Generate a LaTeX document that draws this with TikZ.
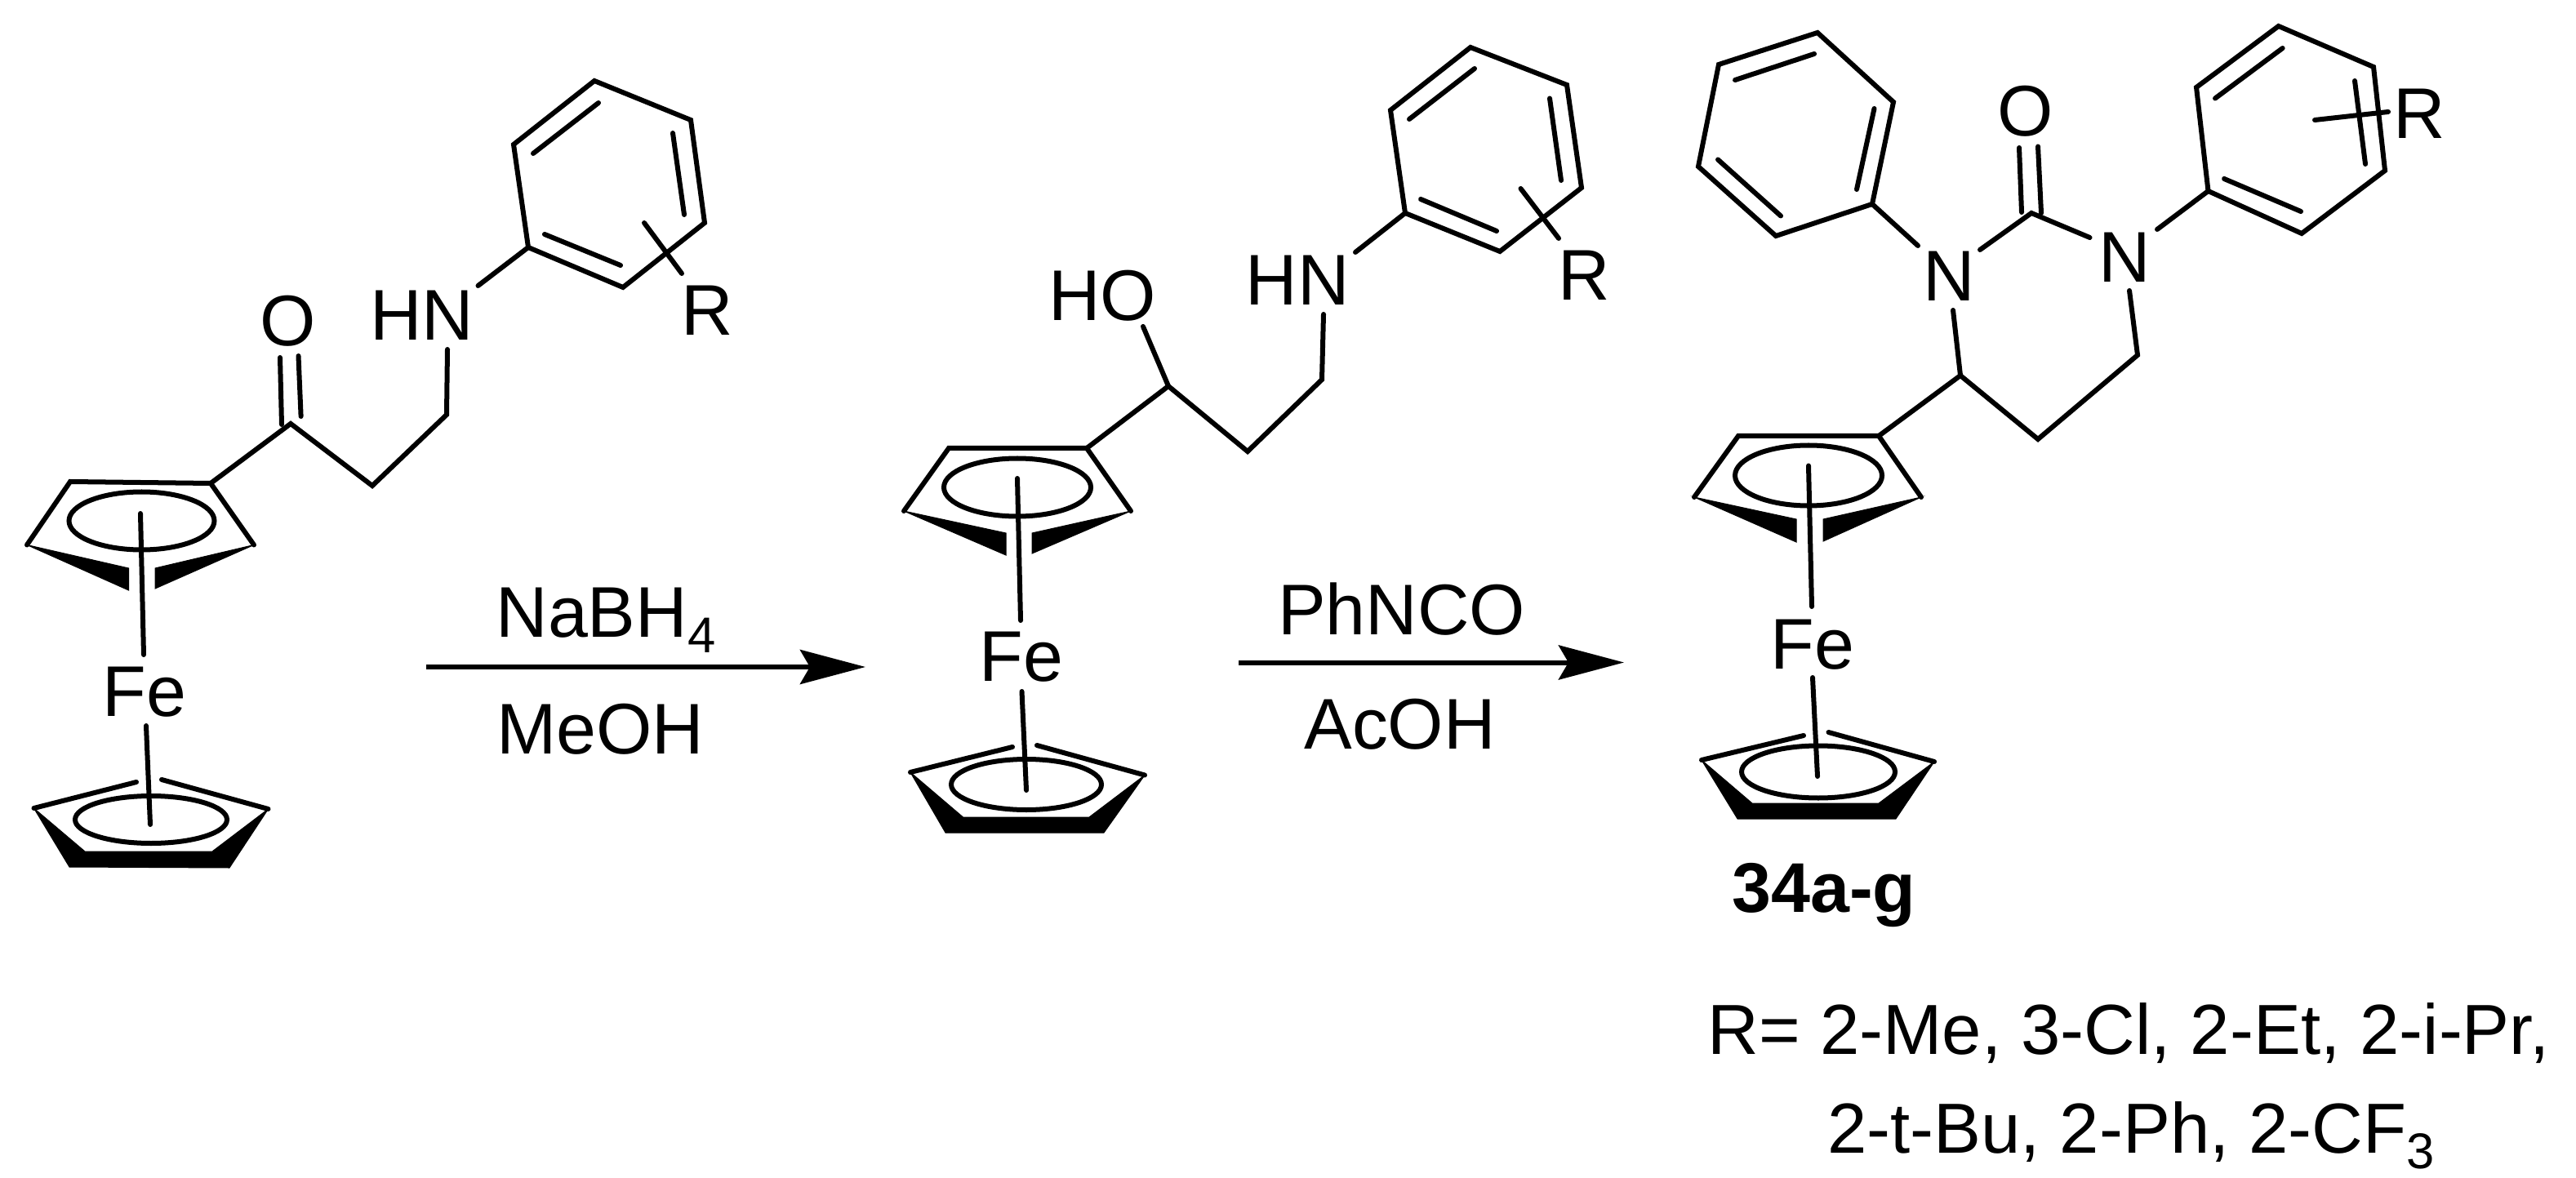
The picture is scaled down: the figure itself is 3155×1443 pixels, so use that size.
\documentclass[tikz,border=0pt]{standalone}
\usepackage{fontspec}
\setmainfont{Liberation Sans}
\usetikzlibrary{arrows.meta}
\newcommand{\subdig}[1]{\raisebox{-0.22em}{\fontsize{17.5}{21}\selectfont #1}}
\tikzset{
  bond/.style={line width=0.06cm,line cap=round,line join=miter,miter limit=10},
  solid wedge/.style={fill=black,draw=black,line width=0.01cm,line join=miter},
  atom/.style={inner sep=0pt,outer sep=0pt,font=\fontsize{25}{30}\selectfont},
  reagent/.style={atom,anchor=base},
  caption line/.style={reagent,font=\fontsize{24.7}{30}\selectfont},
  rxnarrow/.style={line width=0.06cm,-{Stealth[length=0.8cm,width=0.42cm,inset=0.12cm]}},
}
\begin{document}
\begin{tikzpicture}[x=0.01cm,y=-0.01cm]
\useasboundingbox (0,0) rectangle (3155,1443);
\fill[white] (0,0) rectangle (3155,1443);

% ---------- molecule A ----------
\coordinate (a1) at (86,590); \coordinate (a2) at (258,592); \coordinate (a3) at (311,667.5); \coordinate (a4) at (33,667.5);
\coordinate (a5) at (157.5,696); \coordinate (a6) at (157.5,723); \coordinate (a7) at (190,696); \coordinate (a8) at (190,721);
\coordinate (aec) at (173.5,638);
\coordinate (as1) at (172,629); \coordinate (as2) at (176,802); \coordinate (as3) at (179,889); \coordinate (as4) at (184,1010);
\coordinate (ab1) at (41.5,990); \coordinate (ab2) at (167,958); \coordinate (ab3) at (198,955); \coordinate (ab4) at (328.5,991);
\coordinate (ab5) at (104,1043); \coordinate (ab6) at (260,1043); \coordinate (ab7) at (281,1063); \coordinate (ab8) at (85,1062);
\coordinate (abc) at (185,1004);
\coordinate (ac1) at (356,519); \coordinate (ac2) at (456,595); \coordinate (ac3) at (547,508); \coordinate (aNe) at (548,428);
\coordinate (ao1) at (343,438); \coordinate (ao2) at (345,520); \coordinate (ao3) at (365.5,436); \coordinate (ao4) at (368.6,510);
\coordinate (aNb) at (585.5,350);
\coordinate (ar1) at (647,303); \coordinate (ar2) at (629,177); \coordinate (ar3) at (728,99); \coordinate (ar4) at (846,147); \coordinate (ar5) at (863,273); \coordinate (ar6) at (763,352);
\coordinate (ai1) at (667,287); \coordinate (ai2) at (760,325); \coordinate (ai3) at (653,188); \coordinate (ai4) at (733,126); \coordinate (ai5) at (824,163); \coordinate (ai6) at (838,263);
\coordinate (ax1) at (789,273); \coordinate (ax2) at (835,335);
\node[atom] (aFe) at (177,848) {Fe};
\node[atom] (aO) at (353,393) {O};
\node[atom] (aHN) at (517,386) {HN};
\node[atom] (aR) at (866,380) {R};
\draw[bond] (a3) -- (a2) -- (a1) -- (a4);
\fill[solid wedge] (a4) -- (a5) -- (a6) -- cycle;
\fill[solid wedge] (a3) -- (a7) -- (a8) -- cycle;
\draw[bond] (aec) ellipse [x radius=89,y radius=35.5];
\draw[bond] (as1) -- (as2);
\draw[bond] (as3) -- (as4);
\draw[bond] (ab2) -- (ab1);
\draw[bond] (ab3) -- (ab4);
\fill[solid wedge] (ab1) -- (ab5) -- (ab6) -- (ab4) -- (ab7) -- (ab8) -- cycle;
\draw[bond] (abc) ellipse [x radius=93,y radius=29];
\draw[bond] (a2) -- (ac1) -- (ac2) -- (ac3) -- (aNe);
\draw[bond] (ao1) -- (ao2);
\draw[bond] (ao3) -- (ao4);
\draw[bond] (aNb) -- (ar1);
\draw[bond] (ar1) -- (ar2) -- (ar3) -- (ar4) -- (ar5) -- (ar6) -- cycle;
\draw[bond] (ai1) -- (ai2);
\draw[bond] (ai3) -- (ai4);
\draw[bond] (ai5) -- (ai6);
\draw[bond] (ax1) -- (ax2);

% ---------- arrow 1 ----------
\coordinate (t1) at (522,817); \coordinate (h1) at (1060,817);
\draw[rxnarrow] (t1) -- (h1);
\node[reagent] (naBH) at (742,780) {NaBH\subdig{4}};
\node[reagent] (meOH) at (735,923) {MeOH};

% ---------- molecule B ----------
\coordinate (b1) at (1162,549); \coordinate (b2) at (1331,549); \coordinate (b3) at (1385,626); \coordinate (b4) at (1107,626);
\coordinate (b5) at (1232,653); \coordinate (b6) at (1232,680); \coordinate (b7) at (1264,653); \coordinate (b8) at (1264,678);
\coordinate (bec) at (1246,597);
\coordinate (bs1) at (1246,586); \coordinate (bs2) at (1250,760); \coordinate (bs3) at (1251.5,847); \coordinate (bs4) at (1257,968);
\coordinate (bb1) at (1115,946); \coordinate (bb2) at (1240,915); \coordinate (bb3) at (1270,913); \coordinate (bb4) at (1402,949.5);
\coordinate (bb5) at (1179.5,1001); \coordinate (bb6) at (1334,1001); \coordinate (bb7) at (1352,1020); \coordinate (bb8) at (1158,1020);
\coordinate (bbc) at (1257,961);
\coordinate (bc1) at (1431,473); \coordinate (bc2) at (1528,553); \coordinate (bc3) at (1619,465); \coordinate (bNe) at (1621,385);
\coordinate (bOe) at (1400,400); \coordinate (bNb) at (1660,309);
\coordinate (br1) at (1721,261); \coordinate (br2) at (1703,135); \coordinate (br3) at (1801,58); \coordinate (br4) at (1919,104); \coordinate (br5) at (1937,230); \coordinate (br6) at (1837,308);
\coordinate (bi1) at (1740,244); \coordinate (bi2) at (1833,283); \coordinate (bi3) at (1726,146); \coordinate (bi4) at (1806,84); \coordinate (bi5) at (1898,120.5); \coordinate (bi6) at (1912,221);
\coordinate (bx1) at (1862.5,231); \coordinate (bx2) at (1909,292);
\node[atom] (bFe) at (1251,805) {Fe};
\node[atom] (bHO) at (1350,362) {HO};
\node[atom] (bHN) at (1589,343.5) {HN};
\node[atom] (bR) at (1940,337) {R};
\draw[bond] (b3) -- (b2) -- (b1) -- (b4);
\fill[solid wedge] (b4) -- (b5) -- (b6) -- cycle;
\fill[solid wedge] (b3) -- (b7) -- (b8) -- cycle;
\draw[bond] (bec) ellipse [x radius=90,y radius=35.5];
\draw[bond] (bs1) -- (bs2);
\draw[bond] (bs3) -- (bs4);
\draw[bond] (bb2) -- (bb1);
\draw[bond] (bb3) -- (bb4);
\fill[solid wedge] (bb1) -- (bb5) -- (bb6) -- (bb4) -- (bb7) -- (bb8) -- cycle;
\draw[bond] (bbc) ellipse [x radius=92,y radius=31];
\draw[bond] (b2) -- (bc1) -- (bc2) -- (bc3) -- (bNe);
\draw[bond] (bOe) -- (bc1);
\draw[bond] (bNb) -- (br1);
\draw[bond] (br1) -- (br2) -- (br3) -- (br4) -- (br5) -- (br6) -- cycle;
\draw[bond] (bi1) -- (bi2);
\draw[bond] (bi3) -- (bi4);
\draw[bond] (bi5) -- (bi6);
\draw[bond] (bx1) -- (bx2);

% ---------- arrow 2 ----------
\coordinate (t2) at (1517,811.5); \coordinate (h2) at (1989,811.5);
\draw[rxnarrow] (t2) -- (h2);
\node[reagent] (phNCO) at (1716.5,777) {PhNCO};
\node[reagent] (acOH) at (1714.6,917) {AcOH};

% ---------- molecule C ----------
\coordinate (c1) at (2129,534); \coordinate (c2) at (2301,534); \coordinate (c3) at (2353,609); \coordinate (c4) at (2075,609);
\coordinate (c5) at (2200,636); \coordinate (c6) at (2200,664); \coordinate (c7) at (2233,636); \coordinate (c8) at (2233,663);
\coordinate (cec) at (2215,582.5);
\coordinate (cs1) at (2215,570.5); \coordinate (cs2) at (2219,743); \coordinate (cs3) at (2220,830); \coordinate (cs4) at (2226,951);
\coordinate (cb1) at (2084,931); \coordinate (cb2) at (2209,901); \coordinate (cb3) at (2239.5,897); \coordinate (cb4) at (2369,933);
\coordinate (cb5) at (2146,984); \coordinate (cb6) at (2301,984); \coordinate (cb7) at (2322,1003); \coordinate (cb8) at (2128,1003);
\coordinate (cbc) at (2227,945.5);
\coordinate (cp1) at (2226,40); \coordinate (cp2) at (2105,79); \coordinate (cp3) at (2080,204); \coordinate (cp4) at (2175,289); \coordinate (cp5) at (2293,250); \coordinate (cp6) at (2319,125);
\coordinate (cq1) at (2125,98); \coordinate (cq2) at (2222,66); \coordinate (cq3) at (2295.5,133); \coordinate (cq4) at (2274,232); \coordinate (cq5) at (2104,195.5); \coordinate (cq6) at (2181,264.5);
\coordinate (cN1a) at (2349,301); \coordinate (cN1b) at (2425,306); \coordinate (cN1c) at (2392,380);
\coordinate (cCO) at (2488,261); \coordinate (cN2a) at (2559.5,291); \coordinate (cN2b) at (2642,281); \coordinate (cN2c) at (2608,356);
\coordinate (co1) at (2473,181); \coordinate (co2) at (2476,260); \coordinate (co3) at (2496,179.5); \coordinate (co4) at (2500,261);
\coordinate (cc1) at (2618,435); \coordinate (cc2) at (2496,538); \coordinate (cc3) at (2401,460);
\coordinate (cr1) at (2704.5,234); \coordinate (cr2) at (2690,107); \coordinate (cr3) at (2790.6,32); \coordinate (cr4) at (2907,82); \coordinate (cr5) at (2921,209); \coordinate (cr6) at (2819,286);
\coordinate (ci1) at (2724,219); \coordinate (ci2) at (2818,259); \coordinate (ci3) at (2713,120.5); \coordinate (ci4) at (2795.6,59); \coordinate (ci5) at (2884,99); \coordinate (ci6) at (2897,201);
\coordinate (cx1) at (2835,147); \coordinate (cx2) at (2925,137);
\node[atom] (cFe) at (2220,790) {Fe};
\node[atom] (cO) at (2480.6,136) {O};
\node[atom] (cN1) at (2387,338) {N};
\node[atom] (cN2) at (2602.6,315) {N};
\node[atom] (cR) at (2963,139) {R};
\draw[bond] (c3) -- (c2) -- (c1) -- (c4);
\fill[solid wedge] (c4) -- (c5) -- (c6) -- cycle;
\fill[solid wedge] (c3) -- (c7) -- (c8) -- cycle;
\draw[bond] (cec) ellipse [x radius=90,y radius=37];
\draw[bond] (cs1) -- (cs2);
\draw[bond] (cs3) -- (cs4);
\draw[bond] (cb2) -- (cb1);
\draw[bond] (cb3) -- (cb4);
\fill[solid wedge] (cb1) -- (cb5) -- (cb6) -- (cb4) -- (cb7) -- (cb8) -- cycle;
\draw[bond] (cbc) ellipse [x radius=94,y radius=32];
\draw[bond] (cp1) -- (cp2) -- (cp3) -- (cp4) -- (cp5) -- (cp6) -- cycle;
\draw[bond] (cq1) -- (cq2);
\draw[bond] (cq3) -- (cq4);
\draw[bond] (cq5) -- (cq6);
\draw[bond] (cp5) -- (cN1a);
\draw[bond] (cN1b) -- (cCO) -- (cN2a);
\draw[bond] (co1) -- (co2);
\draw[bond] (co3) -- (co4);
\draw[bond] (cN2b) -- (cr1);
\draw[bond] (cN1c) -- (cc3);
\draw[bond] (cN2c) -- (cc1) -- (cc2) -- (cc3) -- (c2);
\draw[bond] (cr1) -- (cr2) -- (cr3) -- (cr4) -- (cr5) -- (cr6) -- cycle;
\draw[bond] (ci1) -- (ci2);
\draw[bond] (ci3) -- (ci4);
\draw[bond] (ci5) -- (ci6);
\draw[bond] (cx1) -- (cx2);

% ---------- captions ----------
\node[atom,font=\fontsize{24.5}{29}\selectfont\bfseries] (cap) at (2234,1097) {34a-g};
\node[caption line] (rlist1) at (2607,1291) {R= 2-Me, 3-Cl, 2-Et, 2-i-Pr,};
\node[caption line] (rlist2) at (2610,1412) {2-t-Bu, 2-Ph, 2-CF\subdig{3}};
\end{tikzpicture}
\end{document}
